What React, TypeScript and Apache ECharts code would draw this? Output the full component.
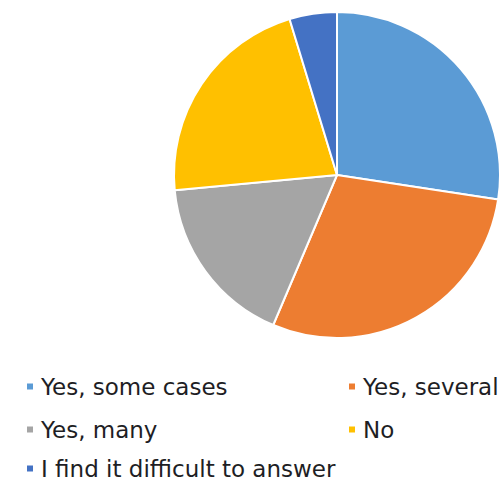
import React, { useEffect, useRef } from "react";
import * as echarts from "echarts";

const categories = [
  "Yes, some cases",
  "Yes, several",
  "Yes, many",
  "No",
  "I find it difficult to answer",
];
const values = [27.4, 29.0, 17.1, 21.8, 4.7];
const colors = ["#5B9BD5", "#ED7D31", "#A5A5A5", "#FFC000", "#4472C4"];
// legend slot for each category: [column, row]
const legendSlots: [number, number][] = [
  [0, 0],
  [1, 0],
  [0, 1],
  [1, 1],
  [0, 2],
];
const columnLeft = [25, 347];
const rowTop = [375, 418, 457];

export default function App() {
  const ref = useRef<HTMLDivElement>(null);
  useEffect(() => {
    if (!ref.current) return;
    const chart = echarts.init(ref.current, null, { renderer: "svg" });
    const legends = categories.map((name, i) => ({
      orient: "horizontal" as const,
      left: columnLeft[legendSlots[i][0]],
      top: rowTop[legendSlots[i][1]],
      padding: 0,
      itemWidth: 8,
      itemHeight: 8,
      icon: "rect",
      data: [name],
      textStyle: {
        fontFamily: "DejaVu Sans",
        fontSize: 23,
        lineHeight: 20,
        color: "#1e1e24",
        padding: [0, 0, 0, 2],
      },
    }));
    chart.setOption({
      animation: false,
      color: colors,
      legend: legends,
      series: [
        {
          type: "pie",
          center: [337, 175],
          radius: 163,
          startAngle: 90,
          clockwise: true,
          label: { show: false },
          labelLine: { show: false },
          itemStyle: { borderColor: "#ffffff", borderWidth: 2 },
          emphasis: { disabled: true },
          data: categories.map((name, i) => ({ name, value: values[i] })),
        },
      ],
    });
    return () => chart.dispose();
  }, []);
  return <div ref={ref} style={{ width: 502, height: 480, position: "absolute", left: 0, top: 0 }} />;
}
